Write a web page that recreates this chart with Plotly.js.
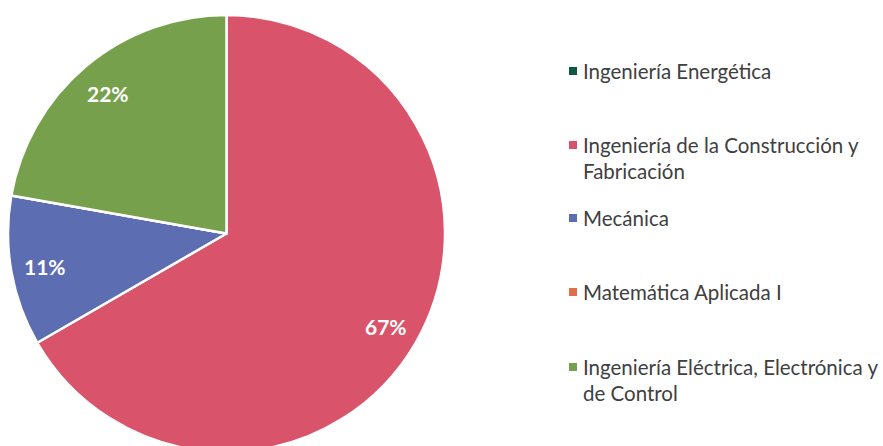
<!DOCTYPE html>
<html><head><meta charset="utf-8">
<script src="https://cdn.plot.ly/plotly-3.0.1.min.js"></script>
<style>html,body{margin:0;padding:0;overflow:hidden;background:#fff;width:883px;height:446px}</style>
</head><body><div id="chart"></div>
<script>
const categories = ["Ingeniería Energética", "Ingeniería de la Construcción y<br>Fabricación", "Mecánica", "Matemática Aplicada I", "Ingeniería Eléctrica, Electrónica y<br>de Control"];
const values = [0, 6, 1, 0, 2];
const colors = ["#0e5a3e", "#d9546a", "#5c6db2", "#e0704a", "#76a04c"];

const W = 883, H = 460;
const cx = 226.5, cy = 233.5, R = 218.5;
const px2x = p => p / W, py2y = p => 1 - p / H;

const total = values.reduce((a, b) => a + b, 0);
const annotations = [], shapes = [];
let cum = 0;
values.forEach((v, i) => {
  const frac = v / total;
  const mid = (cum + frac / 2) * 2 * Math.PI;
  cum += frac;
  if (v > 0) {
    const rr = 0.845 * R;
    annotations.push({
      xref: 'paper', yref: 'paper', x: px2x(cx + rr * Math.sin(mid)), y: py2y(cy - rr * Math.cos(mid) + 1),
      text: Math.round(frac * 100) + '%', showarrow: false, xanchor: 'center', yanchor: 'middle',
      font: {family: 'Lato, sans-serif', size: 21, color: '#ffffff', weight: 'bold'}
    });
  }
});

// legend
const legendTops = [71, 145, 218, 292, 367];
categories.forEach((c, i) => {
  const y0 = legendTops[i];
  shapes.push({type: 'rect', xref: 'paper', yref: 'paper', x0: px2x(569), x1: px2x(577), y0: py2y(y0 - 4), y1: py2y(y0 + 4), fillcolor: colors[i], line: {width: 0}});
  c.split('<br>').forEach((line, k) => {
    annotations.push({xref: 'paper', yref: 'paper', x: px2x(581), y: py2y(y0 + 26 * k), text: line, showarrow: false, xanchor: 'left', yanchor: 'middle',
      font: {family: 'Lato, sans-serif', size: 20.5, color: '#404040'}});
  });
});

const trace = {
  type: 'pie', labels: categories, values: values, sort: false, direction: 'clockwise', rotation: 0,
  marker: {colors: colors, line: {color: '#ffffff', width: 2.5}}, textinfo: 'none', hoverinfo: 'label+percent',
  domain: {x: [px2x(cx - R), px2x(cx + R)], y: [py2y(cy + R), py2y(cy - R)]}, showlegend: false
};

Plotly.newPlot('chart', [trace], {
  width: W, height: H, margin: {l: 0, r: 0, t: 0, b: 0}, paper_bgcolor: '#fff', showlegend: false,
  annotations: annotations, shapes: shapes
}, {displayModeBar: false, staticPlot: true});
</script></body></html>
